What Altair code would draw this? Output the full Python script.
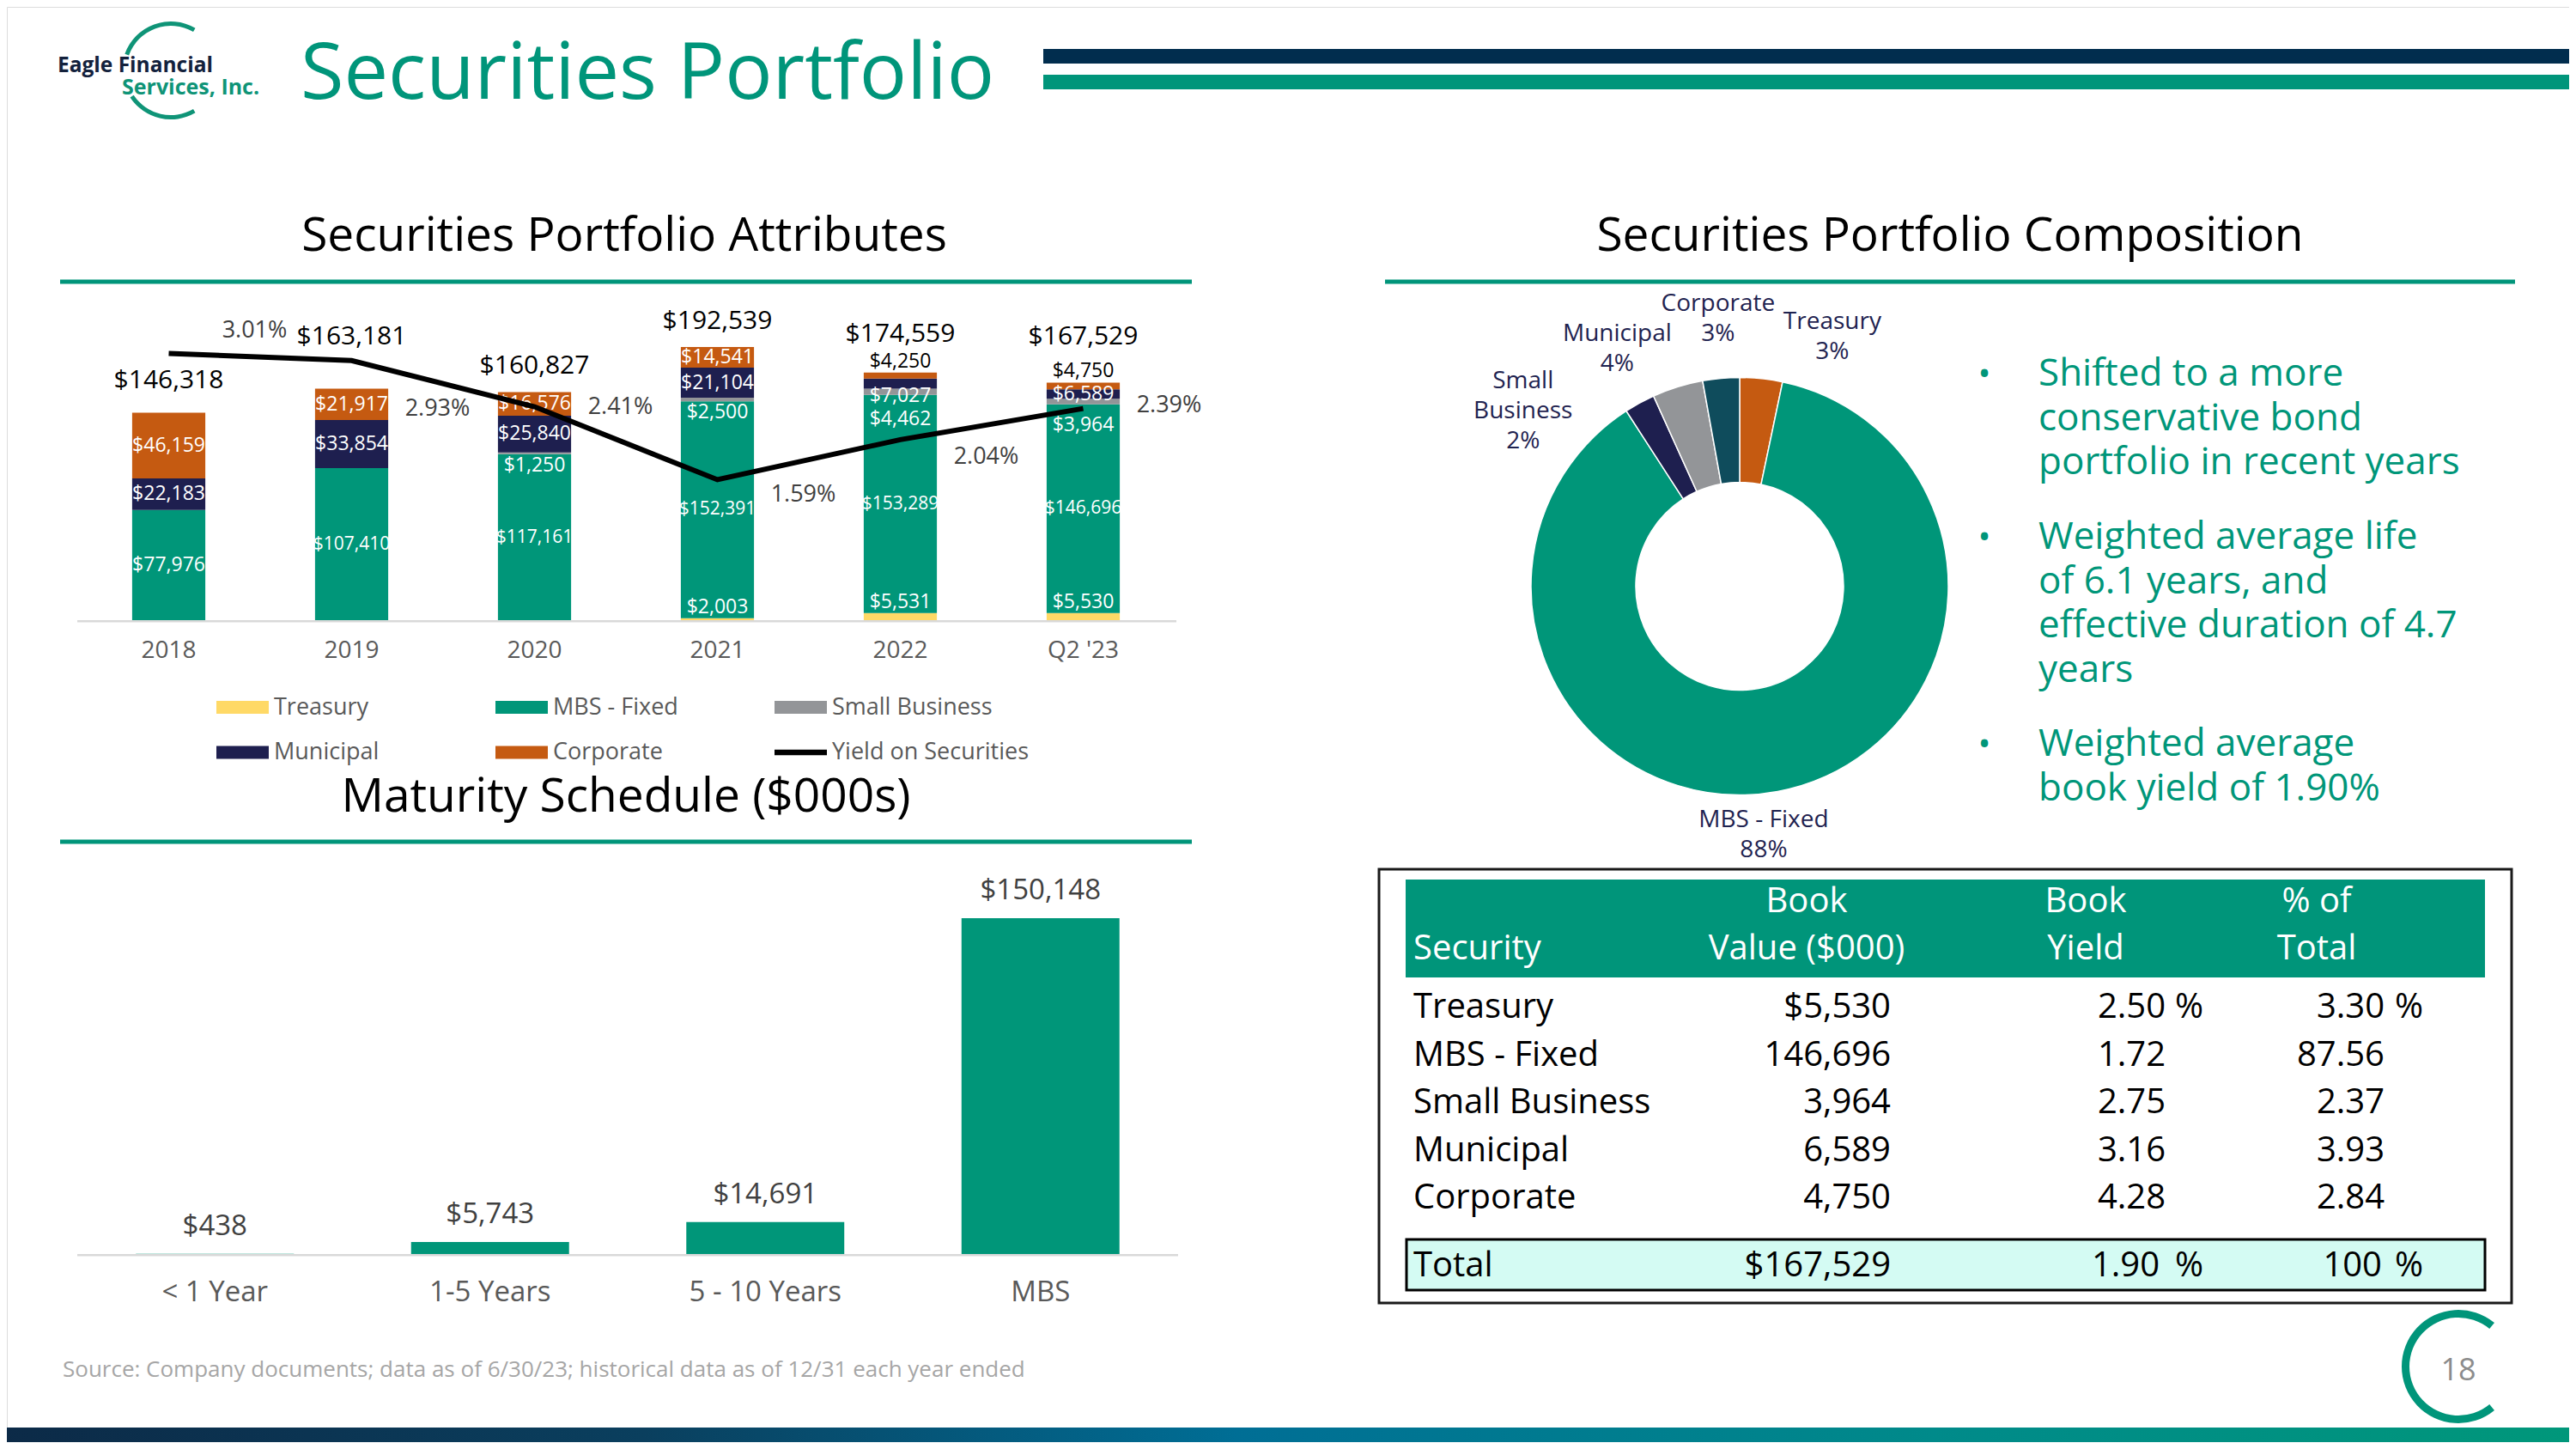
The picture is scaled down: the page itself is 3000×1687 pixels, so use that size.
import math
import altair as alt
import pandas as pd

# ------------------------------------------------------------------ data
years = ["2018", "2019", "2020", "2021", "2022", "Q2 '23"]
treasury = [0, 0, 0, 2003, 5531, 5530]
mbs_fixed = [77976, 107410, 117161, 152391, 153289, 146696]
small_business = [0, 0, 1250, 2500, 4462, 3964]
municipal = [22183, 33854, 25840, 21104, 7027, 6589]
corporate = [46159, 21917, 16576, 14541, 4250, 4750]
portfolio_totals = [146318, 163181, 160827, 192539, 174559, 167529]
yield_on_securities = [3.01, 2.93, 2.41, 1.59, 2.04, 2.39]

maturity_buckets = ["< 1 Year", "1-5 Years", "5 - 10 Years", "MBS"]
maturity_values = [438, 5743, 14691, 150148]

securities = ["Treasury", "MBS - Fixed", "Small Business", "Municipal", "Corporate"]
book_value = [5530, 146696, 3964, 6589, 4750]
book_yield = [2.50, 1.72, 2.75, 3.16, 4.28]
pct_of_total = [3.30, 87.56, 2.37, 3.93, 2.84]
total_book_value = 167529
total_book_yield = 1.90
total_pct = 100

bullet_points = [
    "Shifted to a more\nconservative bond\nportfolio in recent years",
    "Weighted average life\nof 6.1 years, and\neffective duration of 4.7\nyears",
    "Weighted average\nbook yield of 1.90%",
]

# ------------------------------------------------------------------ layout / style
FONT = "Open Sans"
O = 8                      # page margin
W, H = 2984, 1671
TEAL = "#009679"
NAVY = "#1E1F4F"
GREY_TXT = "#595959"
series_order = ["Treasury", "MBS - Fixed", "Small Business", "Municipal", "Corporate"]
bar_colors = ["#FFD966", TEAL, "#939598", NAVY, "#C55A11"]
pie_colors = ["#C55A11", TEAL, NAVY, "#939598", "#0F4C5C"]

total_label_gap = [38, 61, 31, 30, 45, 53]      # px, label centre above bar top
yield_label_dy = [-26, 56, 0, 18, 20, -4]       # px, label centre below point
seg_label_nudge = {("2022", "Municipal"): 14, ("2022", "Small Business"): 15,
                   ("Q2 '23", "Small Business"): 11}   # px, pushed down
pie_label_nudge = {"Treasury": (14.5, 309), "MBS - Fixed": (5, 291),
                   "Small Business": (-22.5, 324), "Municipal": (-10, 311),
                   "Corporate": (0.5, 312)}
pie_label_names = {"Small Business": "Small\nBusiness"}
PIE_LH = 35

one = pd.DataFrame({"k": [0]})


def P(v):
    return v - O


def txt(s, x, y, size, color="#000000", align="left", baseline="alphabetic",
        weight="normal", lh=None):
    kw = dict(text=s, fontSize=size, color=color, align=align, baseline=baseline,
              fontWeight=weight, font=FONT)
    if "\n" in s:
        kw["lineBreak"] = "\n"
        kw["lineHeight"] = lh or size * 1.2
    return alt.Chart(one).mark_text(**kw).encode(x=alt.value(P(x)), y=alt.value(P(y)))


def rect(x1, y1, x2, y2, fill, stroke=None, sw=0):
    kw = dict(fill=fill)
    if stroke:
        kw["stroke"] = stroke
        kw["strokeWidth"] = sw
    return alt.Chart(one).mark_rect(**kw).encode(
        x=alt.value(P(x1)), x2=alt.value(P(x2)), y=alt.value(P(y1)), y2=alt.value(P(y2)))


def arc(cx, cy, r_out, r_in, t1, t2, color):
    return alt.Chart(one).mark_arc(fill=color).encode(
        x=alt.value(P(cx)), y=alt.value(P(cy)),
        theta=alt.value(math.radians(t1)), theta2=alt.value(math.radians(t2)),
        radius=alt.value(r_out), radius2=alt.value(r_in))


layers = []

# ------------------------------------------------------------------ header
layers += [
    rect(1215, 57, 3000, 74, "#012D4E"),
    rect(1215, 87, 3000, 104, "#00957A"),
    arc(199, 82, 57, 52, 289.8, 390, "#0F9477"),
    arc(199, 82, 57, 52, 150, 236.4, "#0F9477"),
    txt("Eagle Financial", 67, 84, 24.5, "#13213C", weight="bold"),
    txt("Services, Inc.", 142, 110, 25, "#0F9477", weight="bold"),
    txt("Securities Portfolio", 350, 115, 92, "#00957A"),
]

# section titles + rules
for title, cx, cy, x1, x2, ly in [
    ("Securities Portfolio Attributes", 727, 292, 70, 1388, 328),
    ("Securities Portfolio Composition", 2271, 292, 1613, 2929, 328),
    ("Maturity Schedule ($000s)", 729, 945, 70, 1388, 980),
]:
    layers.append(txt(title, cx, cy, 55, "#000000", align="center"))
    layers.append(rect(x1, ly - 2.5, x2, ly + 2.5, "#00957A"))

# ------------------------------------------------------------------ stacked bar chart
PX_BAR = 0.001657
PX_YIELD = 103.5
series_values = dict(zip(series_order, [treasury, mbs_fixed, small_business, municipal, corporate]))
rows = []
for i, yr in enumerate(years):
    cum = 0
    for s in series_order:
        v = series_values[s][i]
        if v > 0:
            if s == "MBS - Fixed" or v >= 6000:
                pos, anchor, tc = "mid", cum + v / 2, "white"
            elif s == "Corporate":
                pos, anchor, tc = "above", cum + v, "black"
            elif s == "Treasury":
                pos, anchor, tc = "above", cum + v, "white"
            else:
                pos, anchor, tc = "below", cum, "white"
            anchor -= seg_label_nudge.get((yr, s), 0) / PX_BAR
            rows.append(dict(year=yr, series=s, value=v, start=cum, end=cum + v,
                             label=f"${v:,}", pos=pos, anchor=anchor, tc=tc,
                             fs=21 if v >= 100000 else 23))
        cum += v
seg = pd.DataFrame(rows)

xbar = alt.Scale(domain=years, range=[P(90), P(1368)], paddingInner=0.6, paddingOuter=0.3)
ybar = alt.Scale(domain=[0, 200000], range=[P(723), P(723) - 200000 * PX_BAR], nice=False, zero=False)
yyield = alt.Scale(domain=[0, 4], range=[P(723), P(723) - 4 * PX_YIELD], nice=False, zero=False)
X_YEAR = alt.X("year:N", scale=xbar, axis=None)

layers.append(
    alt.Chart(seg).mark_bar().encode(
        x=X_YEAR,
        y=alt.Y("start:Q", scale=ybar, axis=None), y2="end:Q",
        color=alt.Color("series:N", scale=alt.Scale(domain=series_order, range=bar_colors), legend=None)))

for pos, bl, dy in [("mid", "middle", 0), ("above", "bottom", -1), ("below", "top", 2)]:
    layers.append(
        alt.Chart(seg).transform_filter(alt.datum.pos == pos)
        .mark_text(baseline=bl, dy=dy, font=FONT)
        .encode(x=X_YEAR, y=alt.Y("anchor:Q", scale=ybar, axis=None), text="label:N",
                color=alt.Color("tc:N", scale=None),
                size=alt.Size("fs:Q", scale=None)))

tdf = pd.DataFrame({"year": years, "total": portfolio_totals})
tdf["ly"] = [t + g / PX_BAR for t, g in zip(portfolio_totals, total_label_gap)]
tdf["label"] = [f"${t:,}" for t in portfolio_totals]
layers.append(
    alt.Chart(tdf).mark_text(fontSize=30, baseline="middle", color="#000000", font=FONT)
    .encode(x=X_YEAR, y=alt.Y("ly:Q", scale=ybar, axis=None), text="label:N"))

ydf = pd.DataFrame({"year": years, "yld": yield_on_securities, "i": range(len(years))})
ydf["ly"] = [v - d / PX_YIELD for v, d in zip(yield_on_securities, yield_label_dy)]
ydf["label"] = [f"{v:.2f}%" for v in yield_on_securities]
layers.append(
    alt.Chart(ydf).mark_line(color="black", strokeWidth=6)
    .encode(x=X_YEAR, y=alt.Y("yld:Q", scale=yyield, axis=None), order="i:Q"))
layers.append(
    alt.Chart(ydf).mark_text(fontSize=27, baseline="middle", dx=100, color="#404040", font=FONT)
    .encode(x=X_YEAR, y=alt.Y("ly:Q", scale=yyield, axis=None), text="label:N"))

# axis line + labels
layers.append(rect(90, 722, 1370, 724.5, "#D9D9D9"))
layers.append(
    alt.Chart(pd.DataFrame({"year": years})).mark_text(fontSize=28, baseline="middle", color=GREY_TXT, font=FONT)
    .encode(x=X_YEAR, y=alt.value(P(758)), text="year:N"))

# legend
leg_names = series_order + ["Yield on Securities"]
leg = pd.DataFrame({"name": leg_names,
                    "kind": ["rect"] * 5 + ["line"],
                    "col": [i % 3 for i in range(6)],
                    "row": [i // 3 for i in range(6)]})
legx = alt.X("col:Q", scale=alt.Scale(domain=[0, 2], range=[P(282.5), P(932.5)]), axis=None)
legy = alt.Y("row:Q", scale=alt.Scale(domain=[0, 1], range=[P(823.5), P(876)]), axis=None)
RECT_PATH = "M-1,-0.246L1,-0.246L1,0.246L-1,0.246Z"
LINE_PATH = "M-1,-0.11L1,-0.11L1,0.11L-1,0.11Z"
layers.append(
    alt.Chart(leg).mark_point(filled=True, opacity=1, size=3721)
    .encode(x=legx, y=legy,
            shape=alt.Shape("kind:N", scale=alt.Scale(domain=["rect", "line"], range=[RECT_PATH, LINE_PATH]), legend=None),
            color=alt.Color("name:N", scale=alt.Scale(domain=leg_names, range=bar_colors + ["#000000"]), legend=None)))
layers.append(
    alt.Chart(leg).mark_text(fontSize=27, baseline="middle", align="left", dx=36.5, color=GREY_TXT, font=FONT)
    .encode(x=legx, y=legy, text="name:N"))

# ------------------------------------------------------------------ maturity schedule
PX_MAT = 0.002611
mdf = pd.DataFrame({"bucket": maturity_buckets, "value": maturity_values,
                    "label": [f"${v:,}" for v in maturity_values]})
xmat = alt.Scale(domain=maturity_buckets, range=[P(90), P(1372)], paddingInner=0.426, paddingOuter=0.213)
ymat = alt.Scale(domain=[0, 160000], range=[P(1461), P(1461) - 160000 * PX_MAT], nice=False, zero=False)
X_MAT = alt.X("bucket:N", scale=xmat, axis=None)
layers.append(
    alt.Chart(mdf).mark_bar(color=TEAL)
    .encode(x=X_MAT, y=alt.Y("value:Q", scale=ymat, axis=None)))
layers.append(
    alt.Chart(mdf).mark_text(fontSize=33, baseline="middle", dy=-32, color="#404040", font=FONT)
    .encode(x=X_MAT, y=alt.Y("value:Q", scale=ymat, axis=None), text="label:N"))
layers.append(rect(90, 1460, 1372, 1462.5, "#D9D9D9"))
layers.append(
    alt.Chart(mdf).mark_text(fontSize=33, baseline="middle", color=GREY_TXT, font=FONT)
    .encode(x=X_MAT, y=alt.value(P(1505)), text="bucket:N"))

# ------------------------------------------------------------------ donut
CX, CY = 2026, 682.5
pie = pd.DataFrame({"security": securities, "pct": pct_of_total, "order": range(5)})
layers.append(
    alt.Chart(pie).mark_arc(innerRadius=121, outerRadius=243, stroke="white", strokeWidth=1.5)
    .encode(x=alt.value(P(CX)), y=alt.value(P(CY)),
            theta=alt.Theta("pct:Q", stack=True),
            order=alt.Order("order:Q"),
            color=alt.Color("security:N", scale=alt.Scale(domain=securities, range=pie_colors), legend=None)))

cum = 0
plab = []
for s, p in zip(securities, pct_of_total):
    mid = (cum + p / 2) / 100 * 360
    cum += p
    nd, rr = pie_label_nudge[s]
    label = f"{pie_label_names.get(s, s)}\n{round(p)}%"
    plab.append(dict(security=s, ang=math.radians(mid + nd), lr=rr, label=label,
                     nlines=label.count("\n") + 1))
plab = pd.DataFrame(plab)
for n in sorted(plab["nlines"].unique()):
    layers.append(
        alt.Chart(plab).transform_filter(alt.datum.nlines == int(n))
        .mark_text(fontSize=28, lineBreak="\n", lineHeight=PIE_LH, baseline="middle",
                   dy=-(int(n) - 1) / 2 * PIE_LH, align="center", color="#1F2350", font=FONT)
        .encode(x=alt.value(P(CX)), y=alt.value(P(CY)),
                theta=alt.Theta("ang:Q", scale=None, stack=None),
                radius=alt.Radius("lr:Q", scale=None),
                text="label:N"))

# ------------------------------------------------------------------ bullets
for text, y in zip(bullet_points, [449, 639, 880]):
    layers.append(txt("\u2022", 2311, y, 40, TEAL, align="center"))
    layers.append(txt(text, 2374, y, 44, TEAL, lh=51.7))

# ------------------------------------------------------------------ table
layers += [
    rect(1606, 1012, 2925, 1517, "white", "#1A1A1A", 3),
    rect(1637, 1024, 2894, 1138, "#00957A"),
    rect(1638, 1443, 2894, 1502, "#D4FBF3", "#000000", 3),
    txt("Security", 1646, 1117, 40, "white"),
    txt("Book\nValue ($000)", 2104, 1062, 40, "white", align="center", lh=55),
    txt("Book\nYield", 2429, 1062, 40, "white", align="center", lh=55),
    txt("% of\nTotal", 2698, 1062, 40, "white", align="center", lh=55),
]
tab = pd.DataFrame({
    "security": securities,
    "bv": [f"${v:,}" if i == 0 else f"{v:,}" for i, v in enumerate(book_value)],
    "by": [f"{v:.2f}" for v in book_yield],
    "pc": [f"{v:.2f}" for v in pct_of_total],
    "suffix": ["%"] + [""] * 4,
})
rowy = alt.Y("security:N", scale=alt.Scale(type="point", domain=securities, range=[P(1185), P(1407)], padding=0), axis=None)
for field, x, al in [("security", 1646, "left"), ("bv", 2202, "right"), ("by", 2522, "right"),
                     ("pc", 2777, "right"), ("suffix", 2566, "right")]:
    layers.append(
        alt.Chart(tab).mark_text(fontSize=40, align=al, baseline="alphabetic", color="#000000", font=FONT)
        .encode(x=alt.value(P(x)), y=rowy, text=f"{field}:N"))
layers.append(
    alt.Chart(tab).mark_text(fontSize=40, align="right", baseline="alphabetic", color="#000000", font=FONT)
    .encode(x=alt.value(P(2822)), y=rowy, text="suffix:N"))
layers += [
    txt("Total", 1646, 1486, 40),
    txt(f"${total_book_value:,}", 2202, 1486, 40, align="right"),
    txt(f"{total_book_yield:.2f}", 2515, 1486, 40, align="right"),
    txt("%", 2566, 1486, 40, align="right"),
    txt(f"{total_pct}", 2774, 1486, 40, align="right"),
    txt("%", 2822, 1486, 40, align="right"),
]

# ------------------------------------------------------------------ footer
layers += [
    txt("Source: Company documents; data as of 6/30/23; historical data as of 12/31 each year ended",
        73, 1603, 26, "#A6A6A6"),
    arc(2863, 1591, 66, 57, 140.5, 399.5, "#00957A"),
    txt("18", 2863, 1607, 36, "#8C8C8C", align="center"),
]
grad = alt.Gradient(gradient="linear", x1=0, x2=1, y1=0, y2=0, stops=[
    alt.GradientStop(color="#0C2A47", offset=0),
    alt.GradientStop(color="#0A3F5E", offset=0.25),
    alt.GradientStop(color="#006E95", offset=0.48),
    alt.GradientStop(color="#008A8A", offset=0.75),
    alt.GradientStop(color="#00977A", offset=1)])
layers.append(alt.Chart(one).mark_rect(fill=grad).encode(
    x=alt.value(P(0)), x2=alt.value(P(3000)), y=alt.value(P(1662)), y2=alt.value(P(1687))))

chart = (
    alt.layer(*layers)
    .resolve_scale(x="independent", y="independent", color="independent", theta="independent",
                   radius="independent", size="independent", shape="independent")
    .properties(width=W, height=H, padding=0, autosize=alt.AutoSizeParams(type="none"))
    .configure_view(stroke=None)
    .configure(font=FONT, background="white")
)
chart.save("out.html", embed_options={"renderer": "svg", "actions": False})
